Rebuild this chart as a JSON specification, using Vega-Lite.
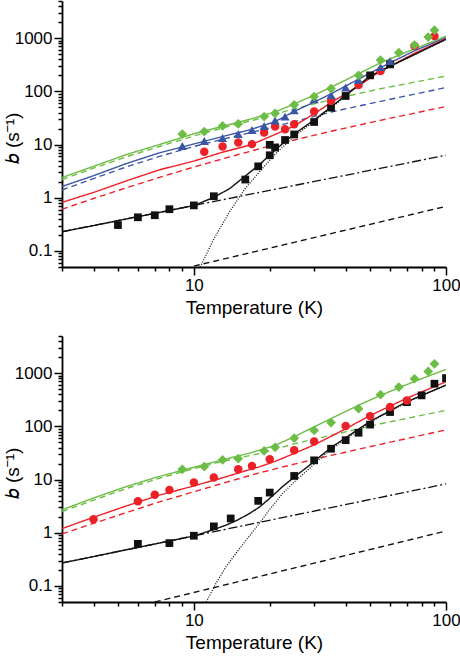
{
  "$schema": "https://vega.github.io/schema/vega-lite/v6.json",
  "padding": {"left": 3, "top": 0, "right": 6, "bottom": 3},
  "spacing": 18,
  "config": {
    "view": {"stroke": null},
    "font": "Liberation Sans",
    "axis": {
      "grid": false,
      "domainColor": "#000",
      "domainWidth": 1.8,
      "tickColor": "#000",
      "tickWidth": 1.5,
      "labelColor": "#000",
      "titleColor": "#000",
      "labelFont": "Liberation Sans",
      "titleFont": "Liberation Sans",
      "labelFontSize": 17,
      "titleFontSize": 19,
      "titleFontWeight": "normal",
      "labelOverlap": false,
      "labelFlush": false,
      "labelPadding": 2
    }
  },
  "datasets": {
    "curves": [
      {"p":"a","s":"g","k":"solid","T":3,"b":2.4},{"p":"a","s":"g","k":"solid","T":4,"b":3.9},{"p":"a","s":"g","k":"solid","T":5.4,"b":6.5},{"p":"a","s":"g","k":"solid","T":7.3,"b":10},{"p":"a","s":"g","k":"solid","T":10,"b":16},{"p":"a","s":"g","k":"solid","T":13,"b":22},{"p":"a","s":"g","k":"solid","T":16.7,"b":30},{"p":"a","s":"g","k":"solid","T":21,"b":41},{"p":"a","s":"g","k":"solid","T":25,"b":58},{"p":"a","s":"g","k":"solid","T":30,"b":85},{"p":"a","s":"g","k":"solid","T":35,"b":120},{"p":"a","s":"g","k":"solid","T":45,"b":215},{"p":"a","s":"g","k":"solid","T":55,"b":345},{"p":"a","s":"g","k":"solid","T":75,"b":630},{"p":"a","s":"g","k":"solid","T":100,"b":1090},
      {"p":"a","s":"g","k":"dash","T":3,"b":2.2},{"p":"a","s":"g","k":"dash","T":4,"b":3.6},{"p":"a","s":"g","k":"dash","T":5.4,"b":5.9},{"p":"a","s":"g","k":"dash","T":7.3,"b":9.2},{"p":"a","s":"g","k":"dash","T":10,"b":14.5},{"p":"a","s":"g","k":"dash","T":13,"b":20.5},{"p":"a","s":"g","k":"dash","T":18.3,"b":31},{"p":"a","s":"g","k":"dash","T":25,"b":47},{"p":"a","s":"g","k":"dash","T":35,"b":70},{"p":"a","s":"g","k":"dash","T":55,"b":112},{"p":"a","s":"g","k":"dash","T":100,"b":194},
      {"p":"a","s":"u","k":"solid","T":3,"b":1.63},{"p":"a","s":"u","k":"solid","T":4,"b":2.6},{"p":"a","s":"u","k":"solid","T":5.4,"b":4.4},{"p":"a","s":"u","k":"solid","T":7.3,"b":7.0},{"p":"a","s":"u","k":"solid","T":10,"b":10.3},{"p":"a","s":"u","k":"solid","T":13,"b":14.2},{"p":"a","s":"u","k":"solid","T":16.7,"b":19},{"p":"a","s":"u","k":"solid","T":21,"b":27},{"p":"a","s":"u","k":"solid","T":25,"b":42},{"p":"a","s":"u","k":"solid","T":30,"b":63},{"p":"a","s":"u","k":"solid","T":35,"b":90},{"p":"a","s":"u","k":"solid","T":45,"b":170},{"p":"a","s":"u","k":"solid","T":55,"b":280},{"p":"a","s":"u","k":"solid","T":75,"b":580},{"p":"a","s":"u","k":"solid","T":100,"b":1020},
      {"p":"a","s":"u","k":"dash","T":3,"b":1.4},{"p":"a","s":"u","k":"dash","T":4,"b":2.3},{"p":"a","s":"u","k":"dash","T":5.4,"b":3.8},{"p":"a","s":"u","k":"dash","T":7.3,"b":6.0},{"p":"a","s":"u","k":"dash","T":10,"b":9.2},{"p":"a","s":"u","k":"dash","T":13,"b":12.6},{"p":"a","s":"u","k":"dash","T":18.3,"b":18.5},{"p":"a","s":"u","k":"dash","T":25,"b":27},{"p":"a","s":"u","k":"dash","T":35,"b":41},{"p":"a","s":"u","k":"dash","T":55,"b":65},{"p":"a","s":"u","k":"dash","T":100,"b":118},
      {"p":"a","s":"r","k":"solid","T":3,"b":0.82},{"p":"a","s":"r","k":"solid","T":4,"b":1.26},{"p":"a","s":"r","k":"solid","T":5.4,"b":2.08},{"p":"a","s":"r","k":"solid","T":7.3,"b":3.35},{"p":"a","s":"r","k":"solid","T":10,"b":4.9},{"p":"a","s":"r","k":"solid","T":13,"b":7.2},{"p":"a","s":"r","k":"solid","T":16.7,"b":9.8},{"p":"a","s":"r","k":"solid","T":18.3,"b":11.7},{"p":"a","s":"r","k":"solid","T":21,"b":15.5},{"p":"a","s":"r","k":"solid","T":25,"b":22.4},{"p":"a","s":"r","k":"solid","T":30,"b":38},{"p":"a","s":"r","k":"solid","T":35,"b":61.5},{"p":"a","s":"r","k":"solid","T":45,"b":126},{"p":"a","s":"r","k":"solid","T":55,"b":241},{"p":"a","s":"r","k":"solid","T":75,"b":520},{"p":"a","s":"r","k":"solid","T":100,"b":977},
      {"p":"a","s":"r","k":"dash","T":3,"b":0.61},{"p":"a","s":"r","k":"dash","T":4,"b":0.97},{"p":"a","s":"r","k":"dash","T":5.4,"b":1.54},{"p":"a","s":"r","k":"dash","T":7.3,"b":2.42},{"p":"a","s":"r","k":"dash","T":10,"b":3.78},{"p":"a","s":"r","k":"dash","T":13,"b":5.39},{"p":"a","s":"r","k":"dash","T":18.3,"b":8.4},{"p":"a","s":"r","k":"dash","T":25,"b":12.2},{"p":"a","s":"r","k":"dash","T":35,"b":17.8},{"p":"a","s":"r","k":"dash","T":55,"b":28.6},{"p":"a","s":"r","k":"dash","T":100,"b":52},
      {"p":"a","s":"k","k":"solid","T":3,"b":0.23},{"p":"a","s":"k","k":"solid","T":4,"b":0.30},{"p":"a","s":"k","k":"solid","T":5.4,"b":0.40},{"p":"a","s":"k","k":"solid","T":7.3,"b":0.53},{"p":"a","s":"k","k":"solid","T":10,"b":0.715},{"p":"a","s":"k","k":"solid","T":12,"b":1.02},{"p":"a","s":"k","k":"solid","T":13.9,"b":1.5},{"p":"a","s":"k","k":"solid","T":15.9,"b":2.5},{"p":"a","s":"k","k":"solid","T":18.3,"b":4.3},{"p":"a","s":"k","k":"solid","T":21,"b":7.9},{"p":"a","s":"k","k":"solid","T":25,"b":15.8},{"p":"a","s":"k","k":"solid","T":30,"b":29},{"p":"a","s":"k","k":"solid","T":35,"b":51},{"p":"a","s":"k","k":"solid","T":50,"b":195},{"p":"a","s":"k","k":"solid","T":100,"b":954},
      {"p":"a","s":"k","k":"dashdot","T":3,"b":0.23},{"p":"a","s":"k","k":"dashdot","T":100,"b":6.3},
      {"p":"a","s":"k","k":"dash","T":10,"b":0.052},{"p":"a","s":"k","k":"dash","T":100,"b":0.69},
      {"p":"a","s":"k","k":"dot","T":10.6,"b":0.05},{"p":"a","s":"k","k":"dot","T":12.1,"b":0.18},{"p":"a","s":"k","k":"dot","T":13.9,"b":0.56},{"p":"a","s":"k","k":"dot","T":15.9,"b":1.45},{"p":"a","s":"k","k":"dot","T":18.3,"b":3.16},{"p":"a","s":"k","k":"dot","T":21,"b":6.6},{"p":"a","s":"k","k":"dot","T":25,"b":14.3},{"p":"a","s":"k","k":"dot","T":30,"b":27.4},{"p":"a","s":"k","k":"dot","T":35,"b":49},{"p":"a","s":"k","k":"dot","T":50,"b":192},{"p":"a","s":"k","k":"dot","T":100,"b":948},

      {"p":"b","s":"g","k":"solid","T":3,"b":2.7},{"p":"b","s":"g","k":"solid","T":4,"b":4.5},{"p":"b","s":"g","k":"solid","T":5.4,"b":7.4},{"p":"b","s":"g","k":"solid","T":7.3,"b":11.5},{"p":"b","s":"g","k":"solid","T":10,"b":17},{"p":"b","s":"g","k":"solid","T":13,"b":23.5},{"p":"b","s":"g","k":"solid","T":16.7,"b":31.5},{"p":"b","s":"g","k":"solid","T":21,"b":44},{"p":"b","s":"g","k":"solid","T":25,"b":64},{"p":"b","s":"g","k":"solid","T":30,"b":98},{"p":"b","s":"g","k":"solid","T":35,"b":140},{"p":"b","s":"g","k":"solid","T":45,"b":250},{"p":"b","s":"g","k":"solid","T":55,"b":383},{"p":"b","s":"g","k":"solid","T":75,"b":700},{"p":"b","s":"g","k":"solid","T":100,"b":1180},
      {"p":"b","s":"g","k":"dash","T":3,"b":2.5},{"p":"b","s":"g","k":"dash","T":4,"b":4.1},{"p":"b","s":"g","k":"dash","T":5.4,"b":6.8},{"p":"b","s":"g","k":"dash","T":7.3,"b":10.6},{"p":"b","s":"g","k":"dash","T":10,"b":16},{"p":"b","s":"g","k":"dash","T":13,"b":22},{"p":"b","s":"g","k":"dash","T":18.3,"b":31},{"p":"b","s":"g","k":"dash","T":25,"b":47},{"p":"b","s":"g","k":"dash","T":35,"b":68},{"p":"b","s":"g","k":"dash","T":55,"b":112},{"p":"b","s":"g","k":"dash","T":100,"b":200},
      {"p":"b","s":"r","k":"solid","T":3,"b":1.2},{"p":"b","s":"r","k":"solid","T":4,"b":1.95},{"p":"b","s":"r","k":"solid","T":5.4,"b":3.2},{"p":"b","s":"r","k":"solid","T":7.3,"b":5.1},{"p":"b","s":"r","k":"solid","T":10,"b":7.6},{"p":"b","s":"r","k":"solid","T":13,"b":10.8},{"p":"b","s":"r","k":"solid","T":16.7,"b":15.5},{"p":"b","s":"r","k":"solid","T":18.3,"b":17.5},{"p":"b","s":"r","k":"solid","T":21,"b":22},{"p":"b","s":"r","k":"solid","T":25,"b":31},{"p":"b","s":"r","k":"solid","T":30,"b":45},{"p":"b","s":"r","k":"solid","T":35,"b":65},{"p":"b","s":"r","k":"solid","T":40,"b":90},{"p":"b","s":"r","k":"solid","T":50,"b":160},{"p":"b","s":"r","k":"solid","T":70,"b":340},{"p":"b","s":"r","k":"solid","T":100,"b":690},
      {"p":"b","s":"r","k":"dash","T":3,"b":0.95},{"p":"b","s":"r","k":"dash","T":4,"b":1.5},{"p":"b","s":"r","k":"dash","T":5.4,"b":2.4},{"p":"b","s":"r","k":"dash","T":7.3,"b":3.8},{"p":"b","s":"r","k":"dash","T":10,"b":5.9},{"p":"b","s":"r","k":"dash","T":13,"b":8.5},{"p":"b","s":"r","k":"dash","T":18.3,"b":13.5},{"p":"b","s":"r","k":"dash","T":25,"b":19.5},{"p":"b","s":"r","k":"dash","T":35,"b":28.5},{"p":"b","s":"r","k":"dash","T":55,"b":46},{"p":"b","s":"r","k":"dash","T":100,"b":86},
      {"p":"b","s":"k","k":"solid","T":3,"b":0.27},{"p":"b","s":"k","k":"solid","T":4,"b":0.357},{"p":"b","s":"k","k":"solid","T":5.4,"b":0.48},{"p":"b","s":"k","k":"solid","T":7.3,"b":0.64},{"p":"b","s":"k","k":"solid","T":10,"b":0.87},{"p":"b","s":"k","k":"solid","T":12,"b":1.15},{"p":"b","s":"k","k":"solid","T":13.5,"b":1.41},{"p":"b","s":"k","k":"solid","T":15,"b":1.76},{"p":"b","s":"k","k":"solid","T":16.7,"b":2.34},{"p":"b","s":"k","k":"solid","T":18.3,"b":3.1},{"p":"b","s":"k","k":"solid","T":20,"b":4.45},{"p":"b","s":"k","k":"solid","T":22.5,"b":7.4},{"p":"b","s":"k","k":"solid","T":25,"b":11.1},{"p":"b","s":"k","k":"solid","T":28,"b":16.9},{"p":"b","s":"k","k":"solid","T":30,"b":22},{"p":"b","s":"k","k":"solid","T":35,"b":40},{"p":"b","s":"k","k":"solid","T":50,"b":124},{"p":"b","s":"k","k":"solid","T":70,"b":291},{"p":"b","s":"k","k":"solid","T":100,"b":598},
      {"p":"b","s":"k","k":"dashdot","T":3,"b":0.27},{"p":"b","s":"k","k":"dashdot","T":100,"b":8.3},
      {"p":"b","s":"k","k":"dash","T":7,"b":0.05},{"p":"b","s":"k","k":"dash","T":100,"b":1.08},
      {"p":"b","s":"k","k":"dot","T":11.2,"b":0.05},{"p":"b","s":"k","k":"dot","T":12.3,"b":0.117},{"p":"b","s":"k","k":"dot","T":13.5,"b":0.24},{"p":"b","s":"k","k":"dot","T":15,"b":0.47},{"p":"b","s":"k","k":"dot","T":16.7,"b":0.9},{"p":"b","s":"k","k":"dot","T":18.3,"b":1.56},{"p":"b","s":"k","k":"dot","T":20,"b":2.75},{"p":"b","s":"k","k":"dot","T":22.5,"b":5.5},{"p":"b","s":"k","k":"dot","T":25,"b":9},{"p":"b","s":"k","k":"dot","T":28,"b":14.5},{"p":"b","s":"k","k":"dot","T":31.7,"b":24.8},{"p":"b","s":"k","k":"dot","T":35,"b":37},{"p":"b","s":"k","k":"dot","T":50,"b":120},{"p":"b","s":"k","k":"dot","T":70,"b":285},{"p":"b","s":"k","k":"dot","T":100,"b":590}
    ],
    "pts": [
      {"p":"a","s":"k","T":5,"b":0.307},{"p":"a","s":"k","T":6,"b":0.43},{"p":"a","s":"k","T":7,"b":0.47},{"p":"a","s":"k","T":8,"b":0.61},{"p":"a","s":"k","T":10,"b":0.72},{"p":"a","s":"k","T":12,"b":1.07},{"p":"a","s":"k","T":16,"b":2.2},{"p":"a","s":"k","T":18,"b":3.9},{"p":"a","s":"k","T":20,"b":6.3},{"p":"a","s":"k","T":20,"b":9.9},{"p":"a","s":"k","T":21,"b":8.8},{"p":"a","s":"k","T":23,"b":12.2},{"p":"a","s":"k","T":25,"b":15.5},{"p":"a","s":"k","T":30,"b":26.6},{"p":"a","s":"k","T":35,"b":49.6},{"p":"a","s":"k","T":40,"b":82},{"p":"a","s":"k","T":50,"b":200},{"p":"a","s":"k","T":60,"b":322},
      {"p":"a","s":"r","T":11,"b":7.3},{"p":"a","s":"r","T":13,"b":9.2},{"p":"a","s":"r","T":15,"b":10.9},{"p":"a","s":"r","T":17,"b":10.2},{"p":"a","s":"r","T":19,"b":16.8},{"p":"a","s":"r","T":21,"b":21.8},{"p":"a","s":"r","T":23,"b":19.4},{"p":"a","s":"r","T":25,"b":24.1},{"p":"a","s":"r","T":30,"b":41.7},{"p":"a","s":"r","T":35,"b":66},{"p":"a","s":"r","T":45,"b":132},{"p":"a","s":"r","T":55,"b":241},{"p":"a","s":"r","T":75,"b":710},{"p":"a","s":"r","T":90,"b":1093},
      {"p":"a","s":"u","T":9,"b":9.4},{"p":"a","s":"u","T":11,"b":11.7},{"p":"a","s":"u","T":13,"b":13.3},{"p":"a","s":"u","T":15,"b":15.8},{"p":"a","s":"u","T":17,"b":18.8},{"p":"a","s":"u","T":19,"b":22.4},{"p":"a","s":"u","T":21,"b":28.3},{"p":"a","s":"u","T":23,"b":33.6},{"p":"a","s":"u","T":25,"b":44},{"p":"a","s":"u","T":30,"b":71},{"p":"a","s":"u","T":35,"b":85},{"p":"a","s":"u","T":40,"b":118},{"p":"a","s":"u","T":45,"b":163},{"p":"a","s":"u","T":55,"b":286},{"p":"a","s":"u","T":60,"b":371},
      {"p":"a","s":"g","T":9,"b":15.8},{"p":"a","s":"g","T":11,"b":17.6},{"p":"a","s":"g","T":13,"b":22.4},{"p":"a","s":"g","T":15,"b":24.4},{"p":"a","s":"g","T":19,"b":33.6},{"p":"a","s":"g","T":21,"b":38.7},{"p":"a","s":"g","T":25,"b":56},{"p":"a","s":"g","T":30,"b":80},{"p":"a","s":"g","T":35,"b":113},{"p":"a","s":"g","T":45,"b":200},{"p":"a","s":"g","T":55,"b":387},{"p":"a","s":"g","T":65,"b":533},{"p":"a","s":"g","T":75,"b":741},{"p":"a","s":"g","T":85,"b":1047},{"p":"a","s":"g","T":90,"b":1415},

      {"p":"b","s":"k","T":6,"b":0.62},{"p":"b","s":"k","T":8,"b":0.64},{"p":"b","s":"k","T":10,"b":0.88},{"p":"b","s":"k","T":12,"b":1.32},{"p":"b","s":"k","T":14,"b":1.86},{"p":"b","s":"k","T":18,"b":3.98},{"p":"b","s":"k","T":20,"b":5.7},{"p":"b","s":"k","T":25,"b":11.7},{"p":"b","s":"k","T":30,"b":23},{"p":"b","s":"k","T":35,"b":38},{"p":"b","s":"k","T":40,"b":55},{"p":"b","s":"k","T":45,"b":76},{"p":"b","s":"k","T":50,"b":108},{"p":"b","s":"k","T":60,"b":186},{"p":"b","s":"k","T":70,"b":286},{"p":"b","s":"k","T":80,"b":383},{"p":"b","s":"k","T":90,"b":634},{"p":"b","s":"k","T":100,"b":808},
      {"p":"b","s":"r","T":4,"b":1.8},{"p":"b","s":"r","T":6,"b":3.9},{"p":"b","s":"r","T":7,"b":5.2},{"p":"b","s":"r","T":8,"b":6.4},{"p":"b","s":"r","T":10,"b":8.8},{"p":"b","s":"r","T":12,"b":10.9},{"p":"b","s":"r","T":15,"b":15.6},{"p":"b","s":"r","T":17,"b":18},{"p":"b","s":"r","T":20,"b":24.1},{"p":"b","s":"r","T":25,"b":35.6},{"p":"b","s":"r","T":30,"b":52},{"p":"b","s":"r","T":40,"b":102},{"p":"b","s":"r","T":50,"b":156},{"p":"b","s":"r","T":60,"b":231},{"p":"b","s":"r","T":70,"b":308},
      {"p":"b","s":"g","T":9,"b":15.6},{"p":"b","s":"g","T":11,"b":17.6},{"p":"b","s":"g","T":13,"b":23.4},{"p":"b","s":"g","T":15,"b":24.8},{"p":"b","s":"g","T":19,"b":34.5},{"p":"b","s":"g","T":21,"b":40.5},{"p":"b","s":"g","T":25,"b":60},{"p":"b","s":"g","T":30,"b":84},{"p":"b","s":"g","T":35,"b":118},{"p":"b","s":"g","T":45,"b":215},{"p":"b","s":"g","T":55,"b":394},{"p":"b","s":"g","T":65,"b":547},{"p":"b","s":"g","T":75,"b":786},{"p":"b","s":"g","T":85,"b":1079},{"p":"b","s":"g","T":90,"b":1503}
    ]
  },
  "vconcat": [
    {
      "width": 384, "height": 266,
      "encoding": {
        "x": {"field": "T", "type": "quantitative", "scale": {"type": "log", "domain": [3, 100], "nice": false},
          "axis": {"title": "Temperature (K)", "values": [3,4,5,6,7,8,9,10,20,30,40,50,60,70,80,90,100], "format": "~g",
            "labelExpr": "datum.value == 10 || datum.value == 100 ? datum.label : ''",
            "tickSize": {"condition": {"test": "datum.value == 10 || datum.value == 100", "value": 8}, "value": 4},
            "titlePadding": 5}},
        "y": {"field": "b", "type": "quantitative", "scale": {"type": "log", "domain": [0.05, 5000], "nice": false},
          "axis": {"title": "𝑏 (s⁻¹)", "values": [0.05,0.06,0.07,0.08,0.09,0.1,0.2,0.3,0.4,0.5,0.6,0.7,0.8,0.9,1,2,3,4,5,6,7,8,9,10,20,30,40,50,60,70,80,90,100,200,300,400,500,600,700,800,900,1000,2000,3000,4000,5000], "format": "~g",
            "labelExpr": "indexof([0.1,1,10,100,1000], datum.value) >= 0 ? datum.label : ''",
            "labelBaseline": {"condition": {"test": "indexof([0.1,1,10,100,1000], datum.value) >= 0", "value": "middle"}, "value": "top"},
            "tickSize": {"condition": {"test": "indexof([0.1,1,10,100,1000], datum.value) >= 0", "value": 8}, "value": 4},
            "titleX": -40, "titleY": 137}}
      },
      "layer": [
        {"data": {"name": "curves"}, "transform": [{"filter": "datum.p == 'a'"}],
         "mark": {"type": "line", "clip": true},
         "encoding": {
           "color": {"field": "s", "type": "nominal", "scale": {"domain": ["g","u","r","k"], "range": ["#6cbd45","#3a56a5","#ec2027","#111111"]}, "legend": null},
           "strokeDash": {"field": "k", "type": "nominal", "scale": {"domain": ["solid","dash","dashdot","dot"], "range": [[1,0],[6,4],[9,3,2,3],[1,1.5]]}, "legend": null},
           "strokeWidth": {"field": "k", "type": "nominal", "scale": {"domain": ["solid","dash","dashdot","dot"], "range": [1.4,1.3,1.3,0.9]}, "legend": null}
         }},
        {"data": {"name": "pts"}, "transform": [{"filter": "datum.p == 'a'"}],
         "mark": {"type": "point", "filled": true, "opacity": 1, "clip": true},
         "encoding": {
           "color": {"field": "s", "type": "nominal", "scale": {"domain": ["g","u","r","k"], "range": ["#6cbd45","#3a56a5","#ec2027","#111111"]}, "legend": null},
           "shape": {"field": "s", "type": "nominal", "scale": {"domain": ["g","u","r","k"], "range": ["diamond","triangle-up","circle","square"]}, "legend": null},
           "size": {"field": "s", "type": "nominal", "scale": {"domain": ["g","u","r","k"], "range": [95,60,50,45]}, "legend": null}
         }}
      ]
    },
    {
      "width": 384, "height": 266,
      "encoding": {
        "x": {"field": "T", "type": "quantitative", "scale": {"type": "log", "domain": [3, 100], "nice": false},
          "axis": {"title": "Temperature (K)", "values": [3,4,5,6,7,8,9,10,20,30,40,50,60,70,80,90,100], "format": "~g",
            "labelExpr": "datum.value == 10 || datum.value == 100 ? datum.label : ''",
            "tickSize": {"condition": {"test": "datum.value == 10 || datum.value == 100", "value": 8}, "value": 4},
            "titlePadding": 5}},
        "y": {"field": "b", "type": "quantitative", "scale": {"type": "log", "domain": [0.05, 5000], "nice": false},
          "axis": {"title": "𝑏 (s⁻¹)", "values": [0.05,0.06,0.07,0.08,0.09,0.1,0.2,0.3,0.4,0.5,0.6,0.7,0.8,0.9,1,2,3,4,5,6,7,8,9,10,20,30,40,50,60,70,80,90,100,200,300,400,500,600,700,800,900,1000,2000,3000,4000,5000], "format": "~g",
            "labelExpr": "indexof([0.1,1,10,100,1000], datum.value) >= 0 ? datum.label : ''",
            "labelBaseline": {"condition": {"test": "indexof([0.1,1,10,100,1000], datum.value) >= 0", "value": "middle"}, "value": "top"},
            "tickSize": {"condition": {"test": "indexof([0.1,1,10,100,1000], datum.value) >= 0", "value": 8}, "value": 4},
            "titleX": -40, "titleY": 137}}
      },
      "layer": [
        {"data": {"name": "curves"}, "transform": [{"filter": "datum.p == 'b'"}],
         "mark": {"type": "line", "clip": true},
         "encoding": {
           "color": {"field": "s", "type": "nominal", "scale": {"domain": ["g","u","r","k"], "range": ["#6cbd45","#3a56a5","#ec2027","#111111"]}, "legend": null},
           "strokeDash": {"field": "k", "type": "nominal", "scale": {"domain": ["solid","dash","dashdot","dot"], "range": [[1,0],[6,4],[9,3,2,3],[1,1.5]]}, "legend": null},
           "strokeWidth": {"field": "k", "type": "nominal", "scale": {"domain": ["solid","dash","dashdot","dot"], "range": [1.4,1.3,1.3,0.9]}, "legend": null}
         }},
        {"data": {"name": "pts"}, "transform": [{"filter": "datum.p == 'b'"}],
         "mark": {"type": "point", "filled": true, "opacity": 1, "clip": true},
         "encoding": {
           "color": {"field": "s", "type": "nominal", "scale": {"domain": ["g","u","r","k"], "range": ["#6cbd45","#3a56a5","#ec2027","#111111"]}, "legend": null},
           "shape": {"field": "s", "type": "nominal", "scale": {"domain": ["g","u","r","k"], "range": ["diamond","triangle-up","circle","square"]}, "legend": null},
           "size": {"field": "s", "type": "nominal", "scale": {"domain": ["g","u","r","k"], "range": [95,60,50,45]}, "legend": null}
         }}
      ]
    }
  ]
}
